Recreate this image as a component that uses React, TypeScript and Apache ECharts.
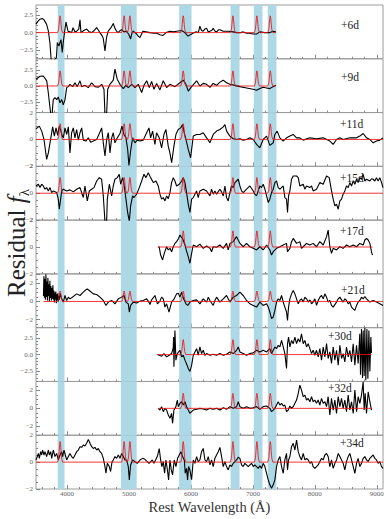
import React, { useEffect, useRef } from "react";
import * as echarts from "echarts";

const FONT = "'Liberation Serif', 'DejaVu Serif', serif";

// ---------------- data ----------------
const panelLabels = ["+6d", "+9d", "+11d", "+15d", "+17d", "+21d", "+30d", "+32d", "+34d"];
const yRanges = [[-3.7, 3.9], [-4.1, 4.2], [-2, 2], [-2, 2], [-2, 2], [-2.9, 3.05], [-4, 4], [-3, 3], [-2, 2]];
const yMajorTicks = [
  [-2.5, 0, 2.5], [-2.5, 0, 2.5], [-2, 0, 2], [-2, 0, 2], [-2, 0, 2],
  [-2, 0, 2], [-2.5, 0, 2.5], [-2, 0, 2], [-2, 0, 2],
];
const yLabelDecimals = [1, 1, 0, 0, 0, 0, 1, 0, 0];
const xMajorTicks = [4000, 5000, 6000, 7000, 8000, 9000];
const xTickLabels = ["4000", "5000", "6000", "7000", "8000", "9000"];
const heLines = [3889, 4922, 5016, 5876, 6678, 7065, 7281];
const peakHeights = [2.37, 2.34, 1.17, 1.17, 1.2, 1.15, 2.22, 1.67, 1.53];
const bands = [[3850, 3960], [4870, 5125], [5810, 6010], [6640, 6785], [7015, 7155], [7240, 7380]];
const profileOffsets = [-40, -24, -16, -8, 0, 8, 16, 24, 40];
const profileShape = [0, 0.2, 0.5, 0.85, 1, 0.85, 0.5, 0.2, 0];

const spec6d = [[3500,1.2],[3530,1.6],[3565,1.9],[3600,2.0],[3630,1.8],[3670,1.2],[3700,0.2],[3725,-1.5],[3745,-3.9],[3800,-3.9],[3830,-3.5],[3844,-1.4],[3870,-1.9],[3903,-1.0],[3924,-2.8],[3940,-1.4],[3960,0.0],[3984,1.5],[4016,0.2],[4050,0.1],[4076,0.0],[4097,0.7],[4130,0.1],[4156,0.2],[4190,0.5],[4210,1.8],[4226,0.0],[4270,0.3],[4318,0.5],[4360,0.1],[4398,0.0],[4440,0.3],[4479,0.7],[4510,0.3],[4532,0.0],[4570,-0.5],[4585,-0.8],[4613,-2.6],[4640,-0.6],[4666,0.2],[4710,0.7],[4747,1.3],[4774,0.6],[4800,0.2],[4827,0.0],[4860,0.3],[4882,0.4],[4920,0.1],[4963,0.2],[5000,-0.3],[5027,-0.9],[5050,0.0],[5069,0.2],[5100,0.0],[5124,-0.2],[5150,-0.5],[5177,-0.7],[5226,0.2],[5280,0.1],[5339,0.0],[5400,-0.1],[5447,-0.1],[5500,-0.3],[5548,-0.4],[5600,0.0],[5661,0.2],[5720,0.1],[5769,0.2],[5850,0.3],[5903,0.0],[5952,-0.5],[6011,-0.2],[6050,0.0],[6092,0.1],[6120,0.0],[6145,0.9],[6170,0.3],[6198,0.2],[6225,0.5],[6253,0.6],[6280,0.1],[6306,0.2],[6335,0.3],[6360,0.6],[6390,0.2],[6415,0.1],[6445,0.4],[6468,0.4],[6521,0.2],[6602,0.2],[6680,0.1],[6737,0.0],[6800,0.0],[6844,0.1],[6900,-0.1],[6952,-0.1],[7000,-0.2],[7060,-0.2],[7113,0.1],[7194,0.0],[7274,0.0],[7327,0.2],[7371,0.1]];

const spec9d = [[3500,1.05],[3565,1.5],[3618,1.55],[3673,0.8],[3698,-1.0],[3737,-4.3],[3760,-4.3],[3779,-2.1],[3806,-1.8],[3834,-2.1],[3860,-1.7],[3887,-2.6],[3915,-2.1],[3940,-2.9],[3968,-2.1],[3995,-0.25],[4021,-0.1],[4048,0.26],[4092,-0.1],[4129,0.5],[4166,-0.1],[4210,0.8],[4237,-0.1],[4290,0.1],[4344,-0.25],[4398,0.5],[4452,-0.1],[4505,-0.2],[4560,0.26],[4597,-0.5],[4613,-4.3],[4640,-4.3],[4657,-0.5],[4694,0.26],[4747,0.9],[4774,2.6],[4811,1.05],[4855,0.26],[4908,-0.4],[4952,0.1],[4989,-0.25],[5044,0.26],[5097,-0.25],[5150,0.26],[5205,-1.0],[5242,0.1],[5286,0.8],[5328,-0.25],[5366,0.7],[5403,-0.5],[5447,0.4],[5500,-0.6],[5553,0.8],[5608,-0.25],[5661,0.26],[5742,-0.1],[5823,0.5],[5876,0.9],[5920,0.26],[5957,-0.8],[6011,-0.1],[6092,0.8],[6145,0.0],[6199,0.4],[6253,0.26],[6307,-0.2],[6360,0.4],[6415,0.1],[6468,0.6],[6521,0.9],[6576,0.5],[6629,0.26],[6710,0.1],[6791,-0.1],[6899,-0.3],[7005,-0.5],[7060,-0.65],[7113,-0.4],[7166,-0.2],[7221,-0.3],[7274,-0.4],[7328,-0.1],[7371,0.1]];

const spec11d = [[3500,0.79],[3554,0.99],[3592,0.62],[3629,0],[3672,-1.48],[3699,-1.0],[3726,-0.25],[3769,0.94],[3796,0.25],[3823,0.86],[3850,0.3],[3876,1.0],[3903,0.62],[3925,0.25],[3941,0.12],[3968,0.86],[3995,0.37],[4022,0.94],[4048,-1.0],[4075,0.5],[4102,0.86],[4129,0.12],[4156,0.74],[4183,-0.05],[4210,0.5],[4237,0.86],[4263,-0.05],[4307,-0.12],[4344,0.12],[4382,-0.2],[4425,-0.12],[4479,0],[4522,0.44],[4560,0.86],[4586,-0.25],[4613,-1.23],[4641,0],[4667,0.5],[4694,-1.0],[4721,0.12],[4747,0.5],[4774,-0.25],[4812,0.12],[4855,0.44],[4887,0.99],[4919,0.37],[4952,0.12],[4979,-0.74],[5000,-1.93],[5027,-0.86],[5059,0.12],[5097,-0.25],[5134,-0.05],[5177,-0.12],[5231,-0.05],[5285,0.5],[5323,0.86],[5350,0.12],[5382,0.62],[5419,-0.37],[5446,0.5],[5489,0.12],[5527,-0.62],[5565,0.37],[5597,0.74],[5634,-0.5],[5661,-1.0],[5689,-1.73],[5726,-0.5],[5758,0.37],[5795,0.74],[5834,0.86],[5866,1.1],[5892,0.5],[5920,0],[5957,-0.74],[5995,-1.36],[6038,0.25],[6092,0.37],[6145,0.37],[6199,0.5],[6253,0.12],[6307,-0.25],[6360,0.37],[6415,0.62],[6468,0.74],[6521,0.94],[6549,1.1],[6576,0.62],[6629,0.25],[6683,0.05],[6737,0],[6791,0.05],[6844,-0.05],[6898,0],[6952,0.12],[7005,0],[7060,-0.37],[7113,-0.62],[7166,0],[7221,0.25],[7274,-0.44],[7328,-0.25],[7355,0.37],[7392,0.62],[7436,0.12],[7489,-0.12],[7544,0.12],[7597,0.25],[7650,0.37],[7705,0.12],[7758,0.12],[7811,-0.05],[7920,0.12],[8028,0.05],[8134,0.12],[8242,-0.12],[8296,-0.37],[8350,0],[8404,0.12],[8457,0],[8565,0.12],[8673,0.12],[8726,0.25],[8780,0.44],[8834,0.12],[8887,0],[8941,-0.25],[8995,-0.12],[9048,-0.05],[9100,0.12]];

const spec15d = [[3500,0.54],[3538,0.67],[3565,0.42],[3591,0.67],[3618,0.54],[3645,0.3],[3672,0.42],[3699,0.17],[3726,0.42],[3753,0.05],[3780,0.17],[3833,0.05],[3860,-0.44],[3876,-1.19],[3898,-0.44],[3914,0.17],[3941,0.3],[3995,0.17],[4048,0.25],[4102,0.1],[4156,0.3],[4210,0.42],[4263,-0.32],[4290,0.54],[4328,-0.57],[4360,0.17],[4398,0.3],[4436,0.42],[4479,0.91],[4522,1.16],[4559,1.04],[4586,-0.2],[4613,-2.1],[4640,-2.1],[4651,-0.44],[4683,0.67],[4721,-0.2],[4747,0.54],[4774,1.04],[4812,1.16],[4844,1.41],[4866,0.67],[4898,1.16],[4920,0.67],[4952,-0.44],[4979,-1.43],[5006,-2.1],[5027,-0.94],[5059,-0.2],[5081,-0.32],[5124,-0.07],[5167,0.42],[5205,0.91],[5242,1.41],[5274,1.16],[5312,1.53],[5350,1.16],[5393,0.79],[5436,0.91],[5473,0.54],[5500,-0.07],[5527,-0.44],[5554,-0.32],[5581,-0.57],[5608,-0.2],[5635,-0.4],[5662,0.05],[5688,0.79],[5715,1.16],[5742,0.91],[5769,0.54],[5812,0.67],[5850,0.91],[5877,1.16],[5904,0.79],[5930,0.05],[5957,-0.81],[5984,-1.43],[6011,-0.44],[6038,-0.32],[6092,0.17],[6118,-0.32],[6145,0.17],[6199,0.3],[6253,0.17],[6307,-0.2],[6333,0.3],[6360,-0.07],[6387,0.17],[6414,-0.07],[6468,0.3],[6495,0.1],[6522,-0.2],[6549,0.54],[6575,-0.32],[6602,-0.57],[6629,0.05],[6656,0.54],[6683,0.42],[6710,0.79],[6737,0.91],[6764,1.04],[6791,0.54],[6817,0.17],[6844,0.05],[6898,0.3],[6952,0.54],[7006,0.17],[7032,-0.07],[7059,-0.2],[7086,0.17],[7113,0.54],[7140,0.42],[7167,0.67],[7194,0.3],[7221,-0.2],[7248,-0.69],[7274,-0.44],[7301,0.05],[7328,0.3],[7355,0.79],[7382,0.91],[7409,0.42],[7436,0.3],[7490,0.54],[7516,-0.32],[7543,-0.44],[7559,-1.43],[7576,-0.2],[7597,0.17],[7624,1.04],[7651,1.28],[7705,1.28],[7732,1.16],[7758,0.54],[7812,0.67],[7839,0.3],[7866,0.54],[7920,0.42],[7947,0.54],[7973,0.17],[8027,0.3],[8081,0.79],[8135,0.67],[8189,1.28],[8232,1.16],[8269,0.17],[8296,-0.44],[8323,-0.94],[8350,-0.81],[8377,-1.19],[8404,-0.57],[8431,-0.44],[8457,-0.07],[8484,0.17],[8511,0.54],[8538,0.42],[8565,0.79],[8592,0.54],[8619,0.91],[8646,0.67],[8673,1.04],[8699,0.79],[8726,1.16],[8753,1.04],[8780,1.41],[8807,0.91],[8834,1.04],[8888,0.91],[8914,1.08],[8941,1.04],[8968,0.91],[8995,1.16],[9022,0.91],[9049,1.16],[9076,0.79],[9100,0.42]];

const spec17d = [[5470,0.0],[5489,0.0],[5511,-0.6],[5543,-0.96],[5570,-0.47],[5608,0.02],[5635,-0.22],[5662,-0.1],[5688,-0.35],[5715,0.02],[5742,0.27],[5769,0.4],[5796,0.6],[5823,0.89],[5850,0.7],[5866,0.64],[5904,0.15],[5930,-0.3],[5957,-0.72],[5984,-1.21],[6011,-0.47],[6038,0.15],[6092,0.02],[6145,0.22],[6199,-0.1],[6253,0.07],[6307,-0.1],[6333,-0.35],[6360,0.02],[6414,-0.02],[6468,0.15],[6522,-0.1],[6575,0.27],[6602,-0.22],[6629,0.27],[6683,0.4],[6737,0.77],[6791,0.27],[6844,0.02],[6898,0.27],[6952,0.02],[7006,-0.1],[7059,-0.22],[7113,0.02],[7167,-0.22],[7221,0.15],[7274,-0.22],[7301,-0.6],[7328,-0.35],[7382,-0.1],[7436,0.02],[7490,0.15],[7543,0.27],[7559,-0.35],[7597,-0.1],[7624,0.4],[7651,0.64],[7705,0.27],[7758,0.4],[7785,-0.1],[7812,0.02],[7866,0.27],[7920,0.15],[7973,0.27],[8027,0.02],[8081,0.4],[8135,0.15],[8189,0.77],[8215,1.26],[8242,0.02],[8269,-0.47],[8296,-0.1],[8350,-0.22],[8404,0.02],[8457,-0.1],[8511,0.15],[8565,0.02],[8619,0.15],[8673,0.02],[8726,0.27],[8780,0.15],[8807,0.52],[8834,0.64],[8861,0.52],[8888,0.27],[8914,-0.35],[8930,-0.6]];

const spec21d = [[3620,0.6],[3628,2.8],[3636,0.4],[3644,2.5],[3652,0.2],[3660,3.0],[3668,0.5],[3676,2.2],[3684,0.1],[3692,2.6],[3700,0.6],[3708,1.9],[3716,0.0],[3724,2.3],[3732,0.4],[3740,1.7],[3748,0.1],[3756,1.5],[3764,0.3],[3772,1.8],[3780,0.2],[3788,1.2],[3796,-0.1],[3804,1.0],[3812,0.2],[3820,1.1],[3828,-0.2],[3836,0.8],[3844,0.1],[3852,0.9],[3860,0.0],[3868,0.6],[3876,0.2],[3890,0.9],[3914,0.3],[3941,-0.07],[3968,0.66],[3995,0.11],[4022,0.48],[4048,0.29],[4102,0.55],[4156,0.84],[4210,0.66],[4263,1.03],[4290,1.21],[4328,1.39],[4360,1.21],[4425,0.84],[4479,0.77],[4532,0.48],[4586,0.11],[4630,-0.44],[4667,-0.07],[4721,0.11],[4774,-0.26],[4828,0.29],[4882,0.48],[4920,0.66],[4952,-0.07],[4989,-0.26],[5006,-1.17],[5027,-0.44],[5070,-0.07],[5124,-0.18],[5178,0.04],[5231,0.11],[5285,0.29],[5312,0.04],[5339,-0.33],[5366,0.18],[5420,0.66],[5460,-0.26],[5500,0.04],[5527,0.48],[5554,0.29],[5581,-0.62],[5608,-0.26],[5646,-1.17],[5688,-0.07],[5730,0.29],[5769,0.84],[5796,0.92],[5823,0.48],[5850,1.03],[5882,0.29],[5920,-0.26],[5950,-0.44],[5984,-0.07],[6038,0.11],[6092,0.18],[6145,-0.26],[6199,0.29],[6253,-0.07],[6280,0.48],[6307,0.11],[6360,-0.44],[6387,0.11],[6414,0.48],[6468,-0.07],[6522,0.29],[6575,0.66],[6629,-0.07],[6683,0.48],[6737,0.66],[6791,1.03],[6844,0.66],[6898,0.11],[6952,-0.26],[7006,-0.44],[7059,-0.62],[7113,-0.07],[7167,-0.44],[7221,-0.26],[7248,-0.62],[7274,-1.17],[7301,-1.9],[7328,-1.72],[7355,-0.99],[7382,-0.07],[7409,0.29],[7436,0.11],[7463,0.66],[7490,-0.07],[7516,-0.62],[7543,-1.17],[7559,-2.09],[7576,-0.62],[7597,0.29],[7624,0.84],[7651,1.21],[7678,0.84],[7705,0.29],[7732,-0.26],[7758,0.11],[7785,0.29],[7812,-0.07],[7839,0.48],[7866,0.29],[7893,-0.07],[7920,0.18],[7947,-0.26],[7973,-0.07],[8000,0.29],[8027,-0.44],[8054,0.11],[8081,0.48],[8108,0.66],[8135,0.29],[8162,0.84],[8189,0.48],[8215,-0.07],[8242,0.11],[8269,-0.44],[8296,-0.62],[8350,-0.07],[8377,0.29],[8404,0.48],[8431,0.18],[8457,-0.07],[8484,0.29],[8511,0.11],[8538,-0.26],[8565,-0.07],[8592,-0.62],[8619,-0.81],[8646,-0.99],[8673,-0.44],[8699,-0.07],[8726,0.11],[8753,0.48],[8780,0.29],[8807,0.55],[8834,0.29],[8888,-0.07],[8941,0.11],[8995,-0.07],[9049,-0.26],[9100,-0.44]];

const spec30d = [[5460,0.0],[5489,-0.1],[5527,-0.25],[5565,0.15],[5608,-0.34],[5650,-0.1],[5688,0.15],[5715,1.0],[5720,2.6],[5726,-1.81],[5742,3.58],[5758,-0.83],[5780,0.15],[5823,0.64],[5850,-0.34],[5877,-0.1],[5904,-0.83],[5930,-1.4],[5957,-2.06],[5984,-2.5],[6011,-1.6],[6038,-0.1],[6065,0.39],[6092,0.88],[6118,-0.1],[6145,1.13],[6172,0.15],[6199,0.64],[6226,-0.1],[6253,0.15],[6307,-0.1],[6360,0.05],[6414,-0.1],[6468,0.15],[6522,-0.1],[6575,0.05],[6629,0.39],[6683,0.15],[6737,0.64],[6764,1.13],[6791,0.39],[6844,0.15],[6898,-0.1],[6952,0.15],[7006,0.25],[7059,0.64],[7113,0.39],[7167,0.64],[7221,0.39],[7274,0.88],[7301,0.15],[7328,0.64],[7355,1.13],[7382,0.88],[7409,1.37],[7436,1.13],[7463,2.11],[7490,1.13],[7516,0.15],[7543,-2.06],[7559,1.62],[7576,2.6],[7597,1.13],[7624,2.11],[7651,1.62],[7678,2.6],[7705,1.62],[7732,2.35],[7758,1.86],[7785,3.09],[7812,1.62],[7839,2.11],[7866,1.13],[7893,1.62],[7920,0.88],[7947,0.15],[7973,0.64],[8000,-0.1],[8027,0.64],[8054,-0.34],[8081,0.88],[8108,-0.83],[8135,1.13],[8162,-0.34],[8189,1.62],[8215,-0.59],[8242,0.39],[8269,-1.32],[8296,1.13],[8323,-0.83],[8350,0.64],[8377,-1.57],[8404,1.37],[8431,-0.59],[8457,0.15],[8484,-1.08],[8511,1.13],[8538,-0.34],[8565,0.64],[8592,-1.08],[8619,1.62],[8646,-1.57],[8673,1.37],[8699,-1.32],[8726,3.09],[8737,-3.0],[8753,3.82],[8769,-3.5],[8780,3.58],[8796,-3.2],[8807,3.97],[8823,-3.8],[8840,3.82],[8856,-3.6],[8872,3.58],[8888,-2.5],[8904,2.6],[8914,0.25]];

const spec32d = [[5473,0.0],[5500,-0.19],[5527,0.19],[5554,-0.37],[5581,0.0],[5608,-0.19],[5635,-0.74],[5662,-1.11],[5688,-0.56],[5704,-1.67],[5726,-0.19],[5758,0.19],[5780,0.93],[5796,0.19],[5823,0.56],[5850,0.74],[5877,0.37],[5904,0.74],[5930,0.19],[5957,-0.19],[5984,-0.56],[6011,-0.37],[6038,-0.19],[6092,-0.11],[6145,0.0],[6199,-0.07],[6253,-0.19],[6307,0.0],[6360,-0.11],[6414,0.0],[6468,-0.19],[6522,0.07],[6575,-0.11],[6629,0.19],[6683,0.0],[6737,0.19],[6764,0.74],[6791,0.19],[6844,0.0],[6898,0.19],[6952,0.0],[7006,0.07],[7059,0.19],[7113,-0.11],[7167,0.19],[7221,0.26],[7274,0.0],[7301,-0.37],[7328,-0.19],[7355,0.0],[7382,0.37],[7409,0.74],[7436,0.37],[7463,0.56],[7490,0.26],[7516,0.37],[7543,-0.37],[7570,-0.19],[7597,0.26],[7624,0.0],[7651,0.19],[7678,0.56],[7705,0.93],[7732,1.67],[7758,2.59],[7785,2.04],[7812,1.3],[7839,1.48],[7866,0.93],[7893,1.11],[7920,0.74],[7947,1.3],[7973,0.74],[8000,0.93],[8027,0.56],[8054,0.93],[8081,0.37],[8108,1.11],[8135,0.56],[8162,0.74],[8189,0.19],[8215,1.3],[8242,-0.74],[8269,1.11],[8296,-0.19],[8323,0.93],[8350,-0.56],[8377,1.3],[8404,0.19],[8431,1.11],[8457,0.0],[8484,0.93],[8511,-0.37],[8538,1.48],[8565,-0.19],[8592,0.74],[8619,-0.56],[8646,2.04],[8673,-0.37],[8699,1.3],[8726,0.56],[8753,1.48],[8780,2.96],[8796,-0.19],[8812,1.67],[8834,-0.56],[8861,1.85],[8888,0.74],[8914,-0.19]];

const spec34d = [[3500,0.16],[3521,0.41],[3538,0.65],[3554,0.28],[3575,0.78],[3591,0.53],[3607,0.9],[3629,0.53],[3645,0.78],[3672,0.41],[3699,0.9],[3715,0.53],[3737,0.78],[3753,0.28],[3780,0.9],[3806,0.41],[3833,0.65],[3860,0.16],[3887,0.53],[3914,0.78],[3930,0.41],[3952,0.9],[3973,0.53],[3995,0.16],[4022,0.41],[4048,0.65],[4075,0.41],[4102,0.28],[4129,0.53],[4156,0.78],[4183,0.9],[4210,1.15],[4237,1.1],[4263,1.27],[4290,1.2],[4317,1.4],[4344,1.69],[4371,1.4],[4398,1.15],[4425,1.02],[4452,1.1],[4479,0.9],[4505,1.02],[4532,0.78],[4559,0.65],[4586,0.28],[4613,-0.33],[4629,-0.83],[4651,-0.09],[4683,-0.33],[4704,-0.7],[4726,0.0],[4747,0.16],[4774,0.41],[4801,0.28],[4828,0.53],[4855,0.28],[4882,0.65],[4909,0.41],[4936,0.16],[4963,0.16],[4989,-0.33],[5006,-1.32],[5027,-0.21],[5059,0.16],[5097,0.04],[5135,-0.09],[5178,0.16],[5221,0.28],[5258,0.21],[5296,0.04],[5323,-0.09],[5350,0.04],[5377,0.16],[5403,-0.09],[5430,0.16],[5457,0.41],[5489,1.0],[5511,0.16],[5532,-0.33],[5554,0.04],[5575,-0.83],[5597,0.16],[5624,-0.7],[5640,-1.32],[5662,0.16],[5683,-0.58],[5704,-0.95],[5731,0.16],[5758,-0.33],[5785,0.28],[5812,0.53],[5839,0.78],[5866,0.41],[5893,0.16],[5909,-0.83],[5930,-0.46],[5946,-1.32],[5962,-0.33],[5984,-0.58],[6011,-1.3],[6038,0.16],[6065,-0.09],[6092,0.41],[6118,0.04],[6145,0.16],[6172,0.78],[6199,1.02],[6226,0.16],[6253,0.04],[6280,0.41],[6307,-0.21],[6333,0.16],[6360,-0.33],[6387,0.28],[6414,0.53],[6441,0.78],[6468,1.1],[6495,0.41],[6522,-0.33],[6549,0.04],[6575,-0.33],[6602,-0.58],[6629,-0.21],[6656,-0.33],[6683,-0.09],[6737,0.16],[6764,0.36],[6791,0.28],[6817,-0.21],[6844,-0.33],[6871,-0.09],[6898,-0.21],[6925,-0.33],[6952,-0.21],[6979,-0.09],[7006,-0.33],[7032,-0.21],[7059,-0.33],[7086,-0.46],[7113,-0.28],[7140,-0.46],[7167,-0.09],[7194,-0.33],[7221,-0.83],[7248,-1.32],[7274,-1.69],[7301,-1.94],[7328,-1.69],[7355,-1.32],[7382,-0.33],[7409,0.16],[7436,0.41],[7463,-0.33],[7490,-0.83],[7516,0.16],[7543,0.65],[7559,-0.58],[7576,0.16],[7597,0.41],[7624,1.15],[7651,1.4],[7678,0.9],[7705,1.64],[7732,0.78],[7758,0.41],[7785,0.16],[7812,0.65],[7839,0.16],[7866,0.28],[7893,0.16],[7920,-0.09],[7947,0.04],[7973,-0.33],[8000,-0.46],[8027,-0.33],[8054,-0.21],[8081,0.04],[8108,0.28],[8135,0.16],[8162,0.53],[8189,0.65],[8215,0.41],[8242,-0.33],[8269,0.16],[8296,-0.46],[8323,-0.09],[8350,0.16],[8377,0.65],[8404,0.41],[8431,0.16],[8457,-0.09],[8484,-0.58],[8511,0.04],[8538,0.41],[8565,0.65],[8592,0.16],[8619,-0.33],[8646,-0.83],[8673,-0.09],[8699,0.28],[8726,-0.33],[8753,-0.09],[8780,0.28],[8807,0.41],[8834,0.16],[8861,0.04],[8888,0.28],[8914,0.41],[8941,0.53],[8968,0.28],[8995,0.16],[9022,-0.09],[9049,0.04],[9076,-0.33],[9100,-0.46]];

const spectra = [spec6d, spec9d, spec11d, spec15d, spec17d, spec21d, spec30d, spec32d, spec34d];

// ---------------- layout ----------------
const X_MIN = 3500;
const X_MAX = 9100;
const GRID_LEFT = 36;
const GRID_WIDTH = 347;
const GRID_TOP = 5;
const PANEL_H = 53.78;
const labelPos = [[341, 25], [341, 77], [340, 124], [340, 178], [340, 231], [341, 290], [328, 336], [328, 388], [340, 443]];

function minorList(lo: number, hi: number, step: number) {
  const out: number[] = [];
  const start = Math.ceil(lo / step - 1e-9) * step;
  for (let v = start; v <= hi + 1e-9; v += step) out.push(Math.round(v * 1000) / 1000);
  return out;
}

function modelLine(spec: number[][], h: number) {
  const start = spec[0][0];
  const end = spec[spec.length - 1][0];
  const pts: number[][] = [[start, 0]];
  heLines.forEach((c) => {
    if (c - 40 > start && c + 40 < end) {
      profileOffsets.forEach((o, k) => pts.push([c + o, h * profileShape[k]]));
    }
  });
  pts.push([end, 0]);
  return pts;
}

function buildOption() {
  const grids: any[] = [];
  const xAxes: any[] = [];
  const yAxes: any[] = [];
  const series: any[] = [];
  const xMinor = minorList(3600, 9000, 200).filter((v) => xMajorTicks.indexOf(v) < 0);
  const tickColor = "#888";

  spectra.forEach((spec, i) => {
    grids.push({
      left: GRID_LEFT, width: GRID_WIDTH, top: GRID_TOP + i * PANEL_H, height: PANEL_H,
      show: true, borderColor: "#9a9a9a", borderWidth: 1,
    });
    const isBottom = i === spectra.length - 1;
    xAxes.push({
      gridIndex: i, type: "value", min: X_MIN, max: X_MAX, position: "bottom",
      axisLine: { show: false, onZero: false }, splitLine: { show: false },
      axisTick: { show: true, inside: true, length: 4, customValues: xMajorTicks, lineStyle: { color: tickColor, width: 1 } },
      axisLabel: {
        show: isBottom, customValues: xMajorTicks, fontSize: 7, color: "#666", fontFamily: FONT, margin: 1,
        formatter: (v: number) => xTickLabels[xMajorTicks.indexOf(v)] ?? String(v),
      },
    });
    xAxes.push({
      gridIndex: i, type: "value", min: X_MIN, max: X_MAX, position: "bottom",
      axisLine: { show: false, onZero: false }, splitLine: { show: false },
      axisTick: { show: true, inside: true, length: 2, customValues: xMinor, lineStyle: { color: tickColor, width: 1 } },
      axisLabel: { show: false },
    });
    const [ymin, ymax] = yRanges[i];
    const dec = yLabelDecimals[i];
    yAxes.push({
      gridIndex: i, type: "value", min: ymin, max: ymax, position: "left",
      axisLine: { show: false, onZero: false }, splitLine: { show: false },
      axisTick: { show: true, inside: true, length: 4, customValues: yMajorTicks[i], lineStyle: { color: tickColor } },
      axisLabel: {
        show: true, customValues: yMajorTicks[i], fontSize: 7, color: "#666", fontFamily: FONT, margin: 3,
        formatter: (v: number) => (v < 0 ? "\u2212" : "") + Math.abs(v).toFixed(dec),
      },
    });
    yAxes.push({
      gridIndex: i, type: "value", min: ymin, max: ymax, position: "left",
      axisLine: { show: false, onZero: false }, splitLine: { show: false },
      axisTick: {
        show: true, inside: true, length: 2,
        customValues: minorList(ymin, ymax, 0.5).filter((v) => yMajorTicks[i].indexOf(v) < 0),
        lineStyle: { color: tickColor },
      },
      axisLabel: { show: false },
    });

    series.push({
      type: "line", xAxisIndex: 2 * i, yAxisIndex: 2 * i, data: [], z: 1, silent: true,
      markArea: {
        silent: true,
        itemStyle: { color: "#add8e6", opacity: 1 },
        data: bands.map((b) => [{ xAxis: b[0] }, { xAxis: b[1] }]),
      },
    });
    series.push({
      type: "line", xAxisIndex: 2 * i, yAxisIndex: 2 * i, data: spec, showSymbol: false, symbol: "none",
      lineStyle: { color: "#000", width: 1.1 }, z: 3, clip: true, silent: true,
    });
    series.push({
      type: "line", xAxisIndex: 2 * i, yAxisIndex: 2 * i, data: modelLine(spec, peakHeights[i]),
      showSymbol: false, symbol: "none", lineStyle: { color: "rgba(240,20,20,0.85)", width: 1 }, z: 4, clip: true, silent: true,
    });
  });

  const graphics: any[] = panelLabels.map((t, i) => ({
    type: "text", x: labelPos[i][0], y: labelPos[i][1], z: 10,
    style: { text: t, fontFamily: FONT, fontSize: 11.5, fill: "#222", align: "left", verticalAlign: "middle" },
  }));
  graphics.push({
    type: "text", x: GRID_LEFT + GRID_WIDTH / 2, y: 507, z: 10,
    style: { text: "Rest Wavelength (Å)", fontFamily: FONT, fontSize: 14.5, fill: "#333", align: "center", verticalAlign: "middle" },
  });
  graphics.push({
    type: "text", x: 19, y: 243, rotation: Math.PI / 2, z: 10,
    style: {
      text: "{a|Residual }{b|f}{c|\u03bb}",
      align: "center", verticalAlign: "middle", fill: "#222",
      rich: {
        a: { fontFamily: FONT, fontSize: 25, fill: "#222", lineHeight: 30, verticalAlign: "top" },
        b: { fontFamily: FONT, fontSize: 25, fontStyle: "italic", fill: "#222", lineHeight: 30, verticalAlign: "top" },
        c: { fontFamily: FONT, fontSize: 15, fill: "#222", lineHeight: 18, padding: [12, 0, 0, 0], verticalAlign: "top" },
      },
    },
  });

  return {
    animation: false,
    backgroundColor: "#fff",
    grid: grids,
    xAxis: xAxes,
    yAxis: yAxes,
    series,
    graphic: graphics,
  };
}

export default function App() {
  const ref = useRef<HTMLDivElement>(null);
  useEffect(() => {
    if (!ref.current) return;
    const chart = echarts.init(ref.current, null, { renderer: "svg" });
    chart.setOption(buildOption() as any);
    return () => chart.dispose();
  }, []);
  return <div ref={ref} style={{ position: "fixed", left: 0, top: 0, width: 390, height: 519 }} />;
}
